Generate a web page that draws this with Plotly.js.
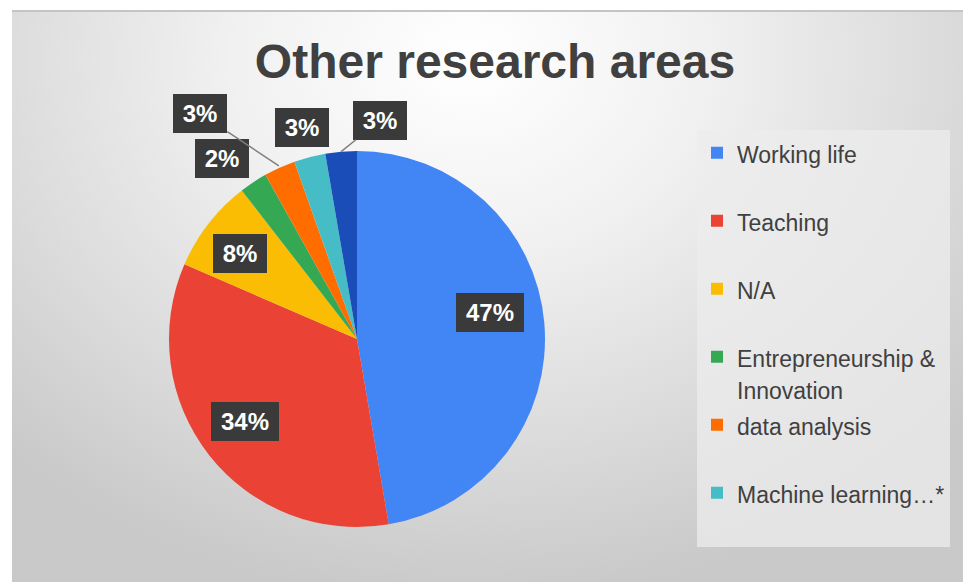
<!DOCTYPE html>
<html>
<head>
<meta charset="utf-8">
<script src="https://cdn.plot.ly/plotly-3.0.1.min.js"></script>
<style>
  html, body { margin: 0; padding: 0; background: #ffffff; width: 963px; height: 582px; overflow: hidden; }
  #bg { position: absolute; left: 12px; top: 10px; width: 951px; height: 572px;
        border-top: 2px solid #c4c4c4; box-sizing: border-box;
        background: radial-gradient(ellipse 70% 95% at 48% 8%, #ffffff 0%, #f1f1f1 35%, #dcdcdc 70%, #c9c9c9 100%); }
  #chart { position: absolute; left: 0; top: 0; width: 963px; height: 582px; }
</style>
</head>
<body>
<div id="bg"></div>
<div id="chart"></div>
<script>
// ---- data ----
const categories = ['Working life', 'Teaching', 'N/A', 'Entrepreneurship &<br>Innovation', 'data analysis', 'Machine learning\u2026*', 'Other'];
const shares = [47.3, 34.2, 8.0, 2.4, 2.7, 2.7, 2.7];
const sliceColors = ['#4285F4', '#EA4335', '#FBBC04', '#34A853', '#FF6D01', '#46BDC6', '#1A4DB8'];

// ---- label placement (style only): angle shift (deg), radial factor, arrow tip radial factor ----
const labelPlace = [
  {dt: -6.6, r: 0.72, tip: null},
  {dt: 2.0,  r: 0.74, tip: null},
  {dt: -1.5, r: 0.77, tip: null},
  {dt: -3.2, r: 1.20, tip: null},
  {dt: -10.5, r: 1.46, tip: 1.01},
  {dt: 0.0,  r: 1.16, tip: null},
  {dt: 10.9, r: 1.17, tip: 1.0}
];

const W = 963, H = 582;
const cx = 357, cy = 339, R = 188; // pie centre / radius in px
const dom = {x: [(cx - R) / W, (cx + R) / W], y: [1 - (cy + R) / H, 1 - (cy - R) / H]};

// legend text drawn at 23px while the legend line pitch uses a 25px base
const legendLabels = categories.map(c => {
  const body = c.split('<br>').map(s => '<span style="font-size:23px">' + s + '</span>').join('<br>');
  return c.indexOf('<br>') >= 0 ? body : body + '<br> ';
});

const total = shares.reduce((a, b) => a + b, 0);
const annotations = [];
let cum = 0;
shares.forEach((v, i) => {
  const mid = (cum + v / 2) / total * 360;
  cum += v;
  const p = labelPlace[i];
  const th = (mid + p.dt) * Math.PI / 180;
  const tx = cx + p.r * R * Math.sin(th);
  const ty = cy - p.r * R * Math.cos(th);
  const pct = Math.round(v / total * 100);
  const ann = {
    text: '<b>' + pct + '%</b>', xref: 'paper', yref: 'paper',
    font: {family: 'Liberation Sans, Arial, sans-serif', size: 24, color: '#ffffff'},
    bgcolor: '#3a3a3a', borderpad: 6, borderwidth: 0,
    width: (pct >= 10 ? 56 : 42), height: 27,
    align: 'center', valign: 'middle'
  };
  if (p.tip) {
    const mth = mid * Math.PI / 180;
    const px = cx + p.tip * R * Math.sin(mth);
    const py = cy - p.tip * R * Math.cos(mth);
    Object.assign(ann, {x: px / W, y: 1 - py / H, showarrow: true, arrowhead: 0,
      arrowwidth: 1.5, arrowcolor: '#7f7f7f', ax: tx - px, ay: ty - py, axref: 'pixel', ayref: 'pixel', standoff: 0});
  } else {
    Object.assign(ann, {x: tx / W, y: 1 - ty / H, showarrow: false, xanchor: 'center', yanchor: 'middle'});
  }
  annotations.push(ann);
});

const trace = {
  type: 'pie',
  labels: legendLabels,
  values: shares,
  sort: false,
  direction: 'clockwise',
  rotation: 0,
  textinfo: 'none',
  marker: {colors: sliceColors, line: {width: 0}},
  domain: dom,
  hoverinfo: 'label+percent'
};

const layout = {
  width: W, height: H,
  margin: {l: 0, r: 0, t: 0, b: 0},
  paper_bgcolor: 'rgba(0,0,0,0)',
  plot_bgcolor: 'rgba(0,0,0,0)',
  title: {text: '<b>Other research areas</b>', x: 495 / W, y: 1 - 61 / H, xanchor: 'center', yanchor: 'middle',
          font: {family: 'Liberation Sans, Arial, sans-serif', size: 48, color: '#404040'}},
  showlegend: true,
  legend: {
    x: 697 / W, y: 1 - 130 / H, xanchor: 'left', yanchor: 'top',
    bgcolor: 'rgba(236,236,236,0.75)', borderwidth: 0,
    font: {family: 'Liberation Sans, Arial, sans-serif', size: 25, color: '#404040'},
    valign: 'top', maxheight: 417
  },
  annotations: annotations
};

Plotly.newPlot('chart', [trace], layout, {displayModeBar: false, staticPlot: true});
</script>
</body>
</html>
